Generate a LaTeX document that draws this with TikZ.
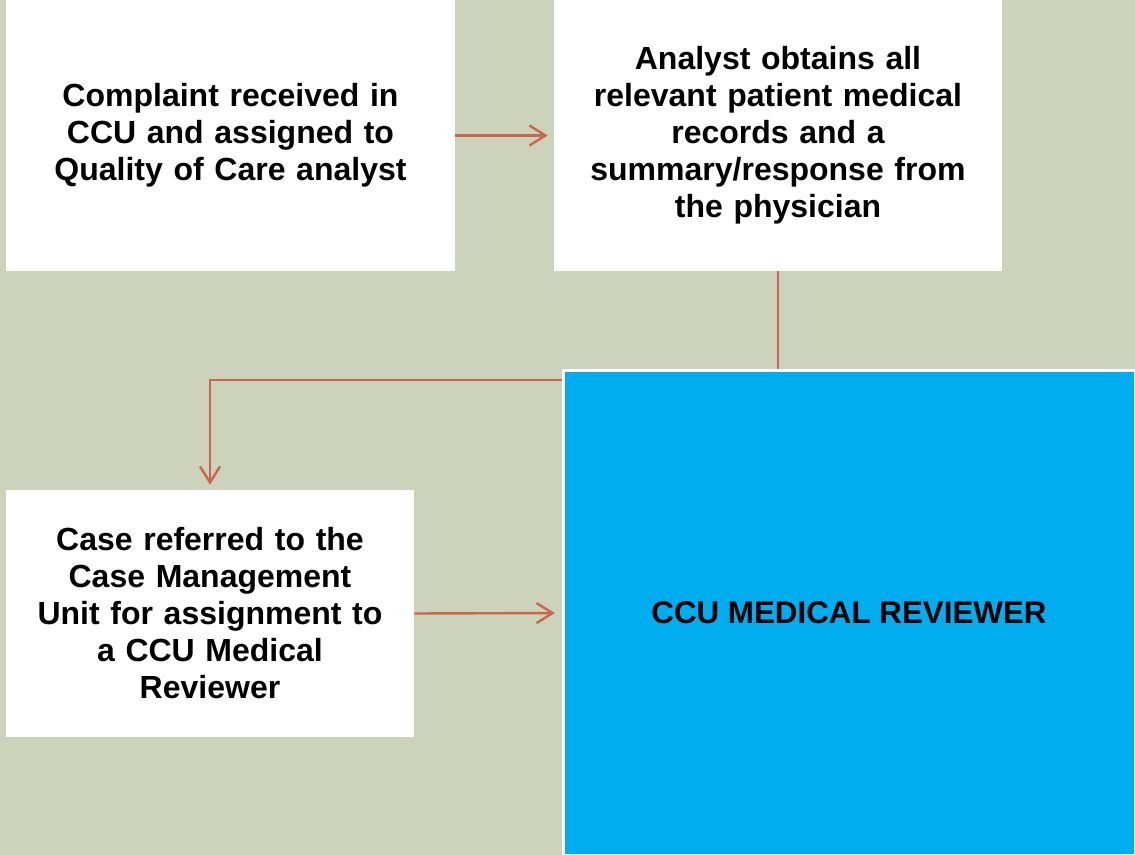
\documentclass[tikz,border=0pt]{standalone}
\usepackage{fontspec}
\setmainfont{Liberation Sans}
\usetikzlibrary{positioning,arrows.meta}

\definecolor{pagegreen}{HTML}{CDD2BB}
\definecolor{flowred}{HTML}{C8664E}
\definecolor{reviewblue}{HTML}{00AEEF}

\tikzset{
  stepbox/.style={fill=white, align=center, inner sep=0pt,
    font=\bfseries\fontsize{24}{27.75}\selectfont},
  flow/.style={draw=flowred, line width=1.8pt,
    -{Straight Barb[length=12pt, width=15pt, line width=1.8pt]}}
}

\begin{document}
\begin{tikzpicture}[x=0.75pt, y=-0.75pt]
    % Background page
    \fill[pagegreen] (0,0) rectangle (1135,855);
    \useasboundingbox (0,0) rectangle (1135,855);

    % Steps of the process
    \node[stepbox, minimum width=336.75pt, minimum height=203.25pt, text width=320pt]
        (received) at (230.5,135.5)
        {Complaint received in\\CCU and assigned to\\Quality of Care analyst};
    \node[stepbox, minimum width=336pt, minimum height=203.25pt, text width=320pt]
        (records) at (778,135.5)
        {Analyst obtains all\\relevant patient medical\\records and a\\summary/response from\\the physician};
    \node[stepbox, minimum width=306pt, minimum height=185.25pt, text width=300pt]
        (referred) at (210,613.5)
        {Case referred to the\\Case Management\\Unit for assignment to\\a CCU Medical\\Reviewer};
    \coordinate (turn) at (778,380);

    % Connectors
    \draw[flow, shorten >=4.5pt] (received) -- (records);
    \draw[flow, shorten >=3.75pt] (records.south) -- (turn) -| (referred.north);

    % Reviewer block drawn last, it covers the turn of the line
    \node[fill=reviewblue, draw=white, line width=2.25pt,
        minimum width=429pt, minimum height=363pt,
        font=\bfseries\fontsize{23.5}{28}\selectfont]
        (reviewer) at (849,613) {CCU MEDICAL REVIEWER};

    \draw[flow, shorten >=5pt] (referred.east) -- (reviewer.west);
\end{tikzpicture}
\end{document}
